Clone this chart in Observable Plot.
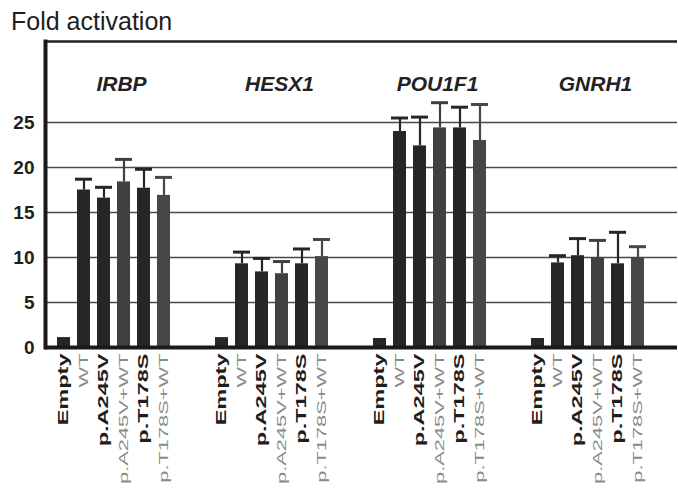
<!DOCTYPE html>
<html><head><meta charset="utf-8">
<script src="https://cdn.jsdelivr.net/npm/d3@7"></script>
<script src="https://cdn.jsdelivr.net/npm/@observablehq/plot@0.6"></script>
<style>
body{margin:0;background:#fff;font-family:"Liberation Sans",Arial,sans-serif;}
#title{height:25px;padding:9px 0 0 11px;font-size:25px;line-height:25px;color:#1e1e1e;}
</style></head><body>
<div id="title">Fold activation</div>
<div id="chart"></div>
<script>
const genes = ["IRBP", "HESX1", "POU1F1", "GNRH1"];
const constructs = ["Empty", "WT", "p.A245V", "p.A245V+WT", "p.T178S", "p.T178S+WT"];
const irbp = [1.1, 17.5, 16.6, 18.4, 17.7, 16.9];
const irbpErr = [0, 1.2, 1.2, 2.5, 2.1, 2.0];
const hesx1 = [1.1, 9.3, 8.4, 8.2, 9.3, 10.1];
const hesx1Err = [0, 1.3, 1.5, 1.35, 1.65, 1.9];
const pou1f1 = [1.0, 24.0, 22.4, 24.4, 24.4, 23.0];
const pou1f1Err = [0, 1.5, 3.2, 2.8, 2.3, 4.0];
const gnrh1 = [1.0, 9.4, 10.2, 10.0, 9.3, 10.0];
const gnrh1Err = [0, 0.8, 1.9, 1.9, 3.5, 1.2];
const yTicks = [0, 5, 10, 15, 20, 25];
const gridTicks = [5, 10, 15, 20, 25];
const yMax = 34;

const seriesByGene = {IRBP: [irbp, irbpErr], HESX1: [hesx1, hesx1Err], POU1F1: [pou1f1, pou1f1Err], GNRH1: [gnrh1, gnrh1Err]};
const rows = genes.flatMap(g => constructs.map((c, i) => ({gene: g, construct: c, value: seriesByGene[g][0][i], err: seriesByGene[g][1][i]})));

// styles
const barFill = {"Empty": "#262626", "WT": "#262626", "p.A245V": "#262626", "p.A245V+WT": "#404040", "p.T178S": "#262626", "p.T178S+WT": "#474747"};
const boldLabel = new Set(["Empty", "p.A245V", "p.T178S"]);
const errRows = rows.filter(d => d.err > 0);

const chart = Plot.plot({
  width: 678, height: 461,
  marginTop: 7, marginBottom: 148, marginLeft: 43, marginRight: 0,
  style: {fontFamily: "'Liberation Sans', Arial, sans-serif", background: "#fff", color: "#1e1e1e"},
  fx: {domain: genes, padding: 0, axis: null},
  x: {domain: constructs, paddingInner: 0.33, paddingOuter: 0.945, align: 0.28, axis: null},
  y: {domain: [0, yMax], axis: null, label: null},
  color: {type: "identity"},
  marks: [
    Plot.ruleY(gridTicks, {stroke: "#4a4a4a", strokeWidth: 1.6}),
    Plot.ruleY([yMax], {stroke: "#222", strokeWidth: 2.5}),
    Plot.barY(rows, {fx: "gene", x: "construct", y: "value", fill: d => barFill[d.construct]}),
    Plot.ruleX(errRows, {fx: "gene", x: "construct", y1: "value", y2: d => d.value + d.err, stroke: d => barFill[d.construct], strokeWidth: 2.2}),
    Plot.tickY(errRows, {fx: "gene", x: "construct", y: d => d.value + d.err, stroke: d => barFill[d.construct], strokeWidth: 3, insetLeft: -2, insetRight: -2}),
    Plot.ruleY([0], {stroke: "#1a1a1a", strokeWidth: 4}),
    Plot.frame({anchor: "left", facetAnchor: "left", stroke: "#1a1a1a", strokeWidth: 4}),
    Plot.axisY(yTicks, {tickSize: 0, tickPadding: 11, fontSize: 19, fontWeight: "bold", fill: "#1e1e1e", label: null}),
    Plot.text(genes, {fx: d => d, text: d => d, frameAnchor: "top", lineAnchor: "middle", dy: 43, dx: -3, fontSize: 21, fontWeight: "bold", fontStyle: "italic", fill: "#222"}),
    Plot.text(rows.filter(d => boldLabel.has(d.construct)), {fx: "gene", x: "construct", text: "construct", frameAnchor: "bottom", rotate: -90, textAnchor: "end", lineAnchor: "middle", dy: 6, fontSize: 14, fontWeight: "bold", fill: "#1e1e1e"}),
    Plot.text(rows.filter(d => !boldLabel.has(d.construct)), {fx: "gene", x: "construct", text: "construct", frameAnchor: "bottom", rotate: -90, textAnchor: "end", lineAnchor: "middle", dy: 6, fontSize: 13, fill: "#8a8a8a"})
  ]
});
chart.querySelectorAll("text").forEach(t => {
  const tr = t.getAttribute("transform");
  if (tr && tr.includes("rotate(-90)")) t.setAttribute("transform", tr + " scale(1.68,1)");
});
document.getElementById("chart").appendChild(chart);
</script>
</body></html>
